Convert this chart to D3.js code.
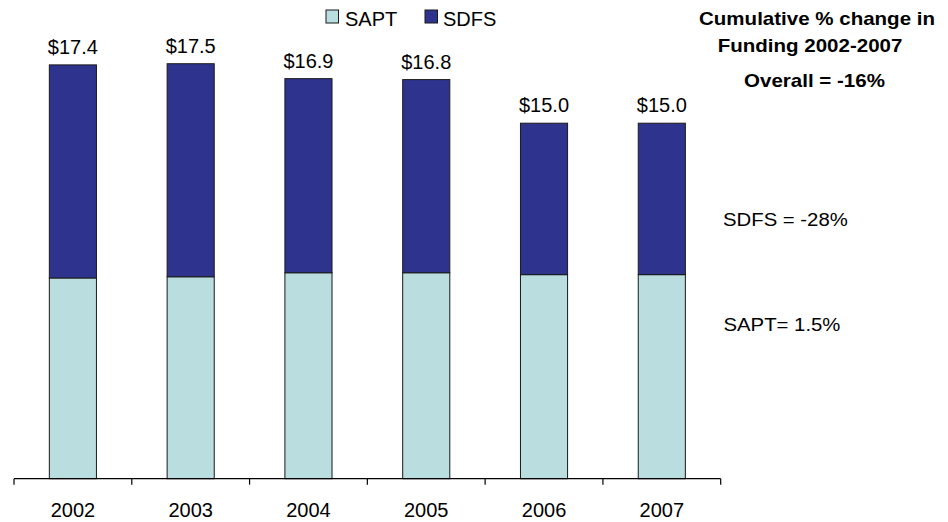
<!DOCTYPE html>
<html>
<head>
<meta charset="utf-8">
<script src="https://cdn.jsdelivr.net/npm/d3@7"></script>
<style>
  html, body { margin: 0; padding: 0; background: #fff; }
  svg { display: block; font-family: Arial, "Liberation Sans", Helvetica, sans-serif; }
</style>
</head>
<body>
<svg id="chart" width="948" height="522"></svg>
<script>
const years = ["2002", "2003", "2004", "2005", "2006", "2007"];
const sapt = [8.47, 8.52, 8.69, 8.69, 8.61, 8.61];
const sdfs = [8.99, 8.99, 8.19, 8.15, 6.39, 6.39];
const totalLabels = ["$17.4", "$17.5", "$16.9", "$16.8", "$15.0", "$15.0"];
const seriesNames = ["SAPT", "SDFS"];
const seriesColors = ["#badde0", "#2e348e"];
const titleLines = ["Cumulative % change in", "Funding 2002-2007"];
const overallText = "Overall = -16%";
const sdfsChange = "SDFS = -28%";
const saptChange = "SAPT= 1.5%";

const svg = d3.select("#chart");

const rows = years.map((y, i) => ({ year: y, SAPT: sapt[i], SDFS: sdfs[i], label: totalLabels[i] }));
const stack = d3.stack().keys(seriesNames)(rows);

const baseY = 478.7;
const pxPerUnit = 23.7;
const x = d3.scaleBand().domain(years).range([14, 720.7]).paddingInner(0.6).paddingOuter(0.3);
const y = d3.scaleLinear().domain([0, 20]).range([baseY, baseY - 20 * pxPerUnit]);
const color = d3.scaleOrdinal().domain(seriesNames).range(seriesColors);

// bars
svg.append("g").selectAll("g").data(stack).join("g")
  .attr("fill", d => color(d.key))
  .selectAll("rect").data(d => d).join("rect")
  .attr("x", d => x(d.data.year))
  .attr("width", x.bandwidth())
  .attr("y", d => y(d[1]))
  .attr("height", d => y(d[0]) - y(d[1]))
  .attr("stroke", "#1a1a1a")
  .attr("stroke-width", 1);

// total labels
svg.append("g").selectAll("text").data(rows).join("text")
  .attr("x", d => x(d.year) + x.bandwidth() / 2)
  .attr("y", d => y(d.SAPT + d.SDFS) - 11)
  .attr("text-anchor", "middle")
  .attr("font-size", 20)
  .attr("fill", "#000")
  .text(d => d.label);

// x axis
const axisG = svg.append("g").attr("transform", `translate(0,${baseY})`);
const [r0, r1] = x.range();
axisG.append("line").attr("x1", r0).attr("x2", r1).attr("y1", 0).attr("y2", 0)
  .attr("stroke", "#000").attr("stroke-width", 1.2);
const boundaries = years.map(yr => x(yr) - x.step() * x.paddingInner() / 2).concat([r1]);
axisG.selectAll("line.tick").data(boundaries).join("line").attr("class", "tick")
  .attr("x1", d => d).attr("x2", d => d).attr("y1", 0).attr("y2", 6)
  .attr("stroke", "#000").attr("stroke-width", 1.2);
const xAxis = d3.axisBottom(x).tickSize(0).tickPadding(0);
const labelsG = svg.append("g").attr("transform", `translate(0,${baseY})`).call(xAxis);
labelsG.select(".domain").remove();
labelsG.selectAll("text")
  .attr("y", 38).attr("dy", null)
  .attr("font-size", 20)
  .attr("font-family", "Arial, 'Liberation Sans', Helvetica, sans-serif")
  .attr("fill", "#000");

// legend
const legendPos = [{ sx: 326, tx: 345 }, { sx: 425, tx: 443 }];
const legend = svg.append("g").selectAll("g").data(seriesNames).join("g");
legend.append("rect")
  .attr("x", (d, i) => legendPos[i].sx).attr("y", 10)
  .attr("width", 12.5).attr("height", 13)
  .attr("fill", d => color(d)).attr("stroke", "#1a1a1a").attr("stroke-width", 1);
legend.append("text")
  .attr("x", (d, i) => legendPos[i].tx).attr("y", 26)
  .attr("font-size", 20).attr("fill", "#000")
  .text(d => d);

// right annotations
const ann = svg.append("g");
const boldItems = [
  { t: titleLines[0], cx: 817, by: 25 },
  { t: titleLines[1], cx: 810, by: 51.5 },
  { t: overallText, cx: 814.5, by: 87 }
];
ann.selectAll("text.b").data(boldItems).join("text").attr("class", "b")
  .attr("transform", d => `translate(${d.cx},${d.by}) scale(1.14,1)`)
  .attr("text-anchor", "middle")
  .attr("font-weight", "bold")
  .attr("font-size", 18)
  .attr("fill", "#000")
  .text(d => d.t);

const regItems = [
  { t: sdfsChange, lx: 723, by: 226 },
  { t: saptChange, lx: 723.5, by: 330.5 }
];
ann.selectAll("text.r").data(regItems).join("text").attr("class", "r")
  .attr("transform", d => `translate(${d.lx},${d.by}) scale(1.13,1)`)
  .attr("font-size", 18)
  .attr("fill", "#000")
  .text(d => d.t);
</script>
</body>
</html>
